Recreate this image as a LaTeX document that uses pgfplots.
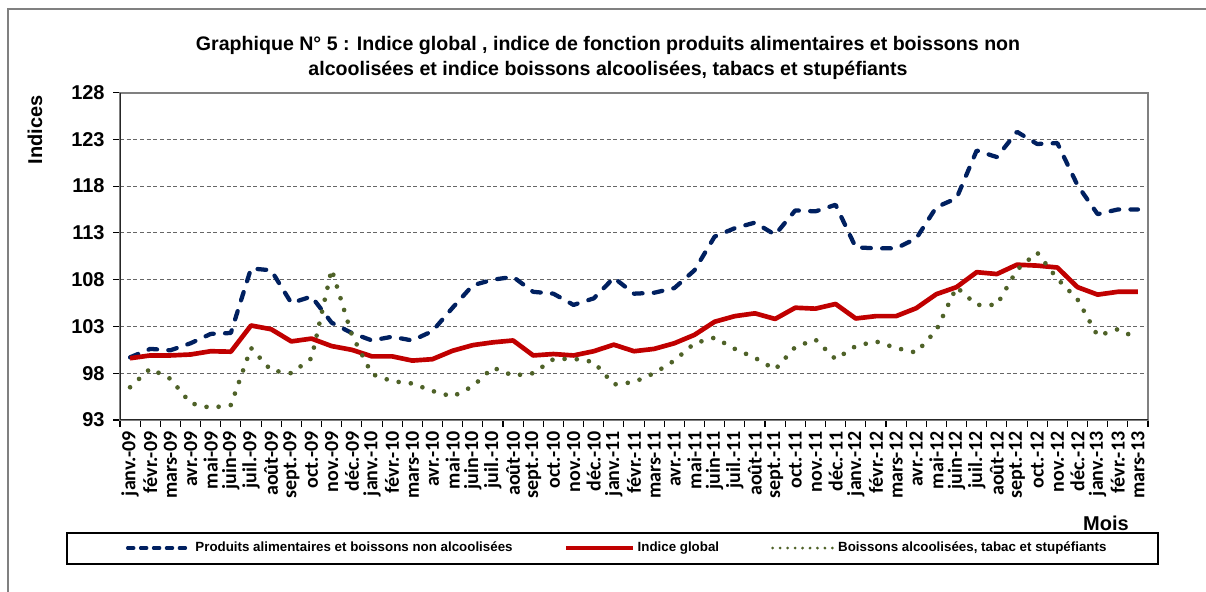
\documentclass[border=0pt]{standalone}
\usepackage{fontspec}
\setmainfont{Liberation Sans}
\newfontfamily\carlito{Carlito}
\usepackage{pgfplots}
\usepackage{pgfplotstable}
\pgfplotsset{compat=1.18}
\definecolor{cblue}{RGB}{0,32,96}
\definecolor{cred}{RGB}{192,0,0}
\definecolor{cgreen}{RGB}{79,98,40}
\pgfplotstableread{
i P G B
0 99.7 99.6 96.5
1 100.6 99.9 98.5
2 100.45 99.9 97.4
3 101.2 100.0 94.8
4 102.2 100.35 94.3
5 102.3 100.3 94.6
6 109.2 103.1 100.7
7 109.0 102.7 98.3
8 105.5 101.4 98.0
9 106.2 101.7 99.6
10 103.4 100.9 109.1
11 102.3 100.5 102.1
12 101.5 99.8 97.9
13 101.9 99.8 97.15
14 101.5 99.35 96.9
15 102.5 99.5 96.1
16 105.0 100.4 95.5
17 107.4 101.0 96.6
18 108.0 101.3 98.6
19 108.3 101.5 97.75
20 106.7 99.9 98.0
21 106.5 100.05 99.5
22 105.3 99.9 99.55
23 106.0 100.35 99.2
24 108.2 101.05 96.8
25 106.5 100.35 97.05
26 106.6 100.6 98.0
27 107.1 101.2 99.35
28 109.0 102.1 101.2
29 112.6 103.5 101.8
30 113.5 104.1 100.6
31 114.1 104.4 99.65
32 112.8 103.8 98.4
33 115.4 105.0 100.8
34 115.3 104.9 101.6
35 116.0 105.4 99.5
36 111.45 103.85 100.9
37 111.35 104.1 101.4
38 111.35 104.1 100.7
39 112.4 104.95 100.2
40 115.75 106.45 102.6
41 116.7 107.2 107.2
42 121.8 108.8 105.3
43 121.1 108.6 105.3
44 123.8 109.6 109.05
45 122.5 109.5 110.9
46 122.6 109.3 108.1
47 118.1 107.2 105.9
48 115.0 106.4 102.0
49 115.5 106.7 102.7
50 115.5 106.7 101.7
}\data

\begin{document}
\begin{tikzpicture}
\useasboundingbox (0pt,0pt) rectangle (904.5pt,444pt);
\draw[gray, line width=1.5pt] (6pt,-7.5pt) -- (6pt,437.25pt) -- (915pt,437.25pt);
\node[font=\bfseries\fontsize{14.7}{18.75}\selectfont, align=center] at (456pt,400.5pt)
 {Graphique N° 5 : Indice global , indice de fonction produits alimentaires et boissons non\\alcoolisées et indice boissons alcoolisées, tabacs et stupéfiants};
\node[rotate=90, font=\bfseries\fontsize{15}{15}\selectfont] at (26.25pt,346.5pt) {Indices};
\node[font=\bfseries\fontsize{15}{15}\selectfont] at (829.5pt,51.75pt) {Mois};
\draw[black, line width=0.8pt] (50.25pt,44.25pt) rectangle (868.5pt,21pt);
\begin{axis}[
  at={(90pt,129pt)}, anchor=south west,
  scale only axis, width=771pt, height=245.6pt,
  xmin=-0.5, xmax=50.5, ymin=93, ymax=128,
  axis line style={draw=gray, line width=1.5pt},
  ytick={93,98,...,128},
  ymajorgrids,
  grid style={densely dashed, gray!80!black, line width=0.6pt},
  tick style={black, line width=0.8pt},
  tick align=outside, tick pos=left,
  major tick length=5pt,
  xtick={-0.5,0.5,...,50.5},
  x tick label as interval,
  xticklabels={janv.-09,févr.-09,mars-09,avr.-09,mai-09,juin-09,juil.-09,août-09,sept.-09,oct.-09,nov.-09,déc.-09,
    janv.-10,févr.-10,mars-10,avr.-10,mai-10,juin-10,juil.-10,août-10,sept.-10,oct.-10,nov.-10,déc.-10,
    janv.-11,févr.-11,mars-11,avr.-11,mai-11,juin-11,juil.-11,août-11,sept.-11,oct.-11,nov.-11,déc.-11,
    janv.-12,févr.-12,mars-12,avr.-12,mai-12,juin-12,juil.-12,août-12,sept.-12,oct.-12,nov.-12,déc.-12,
    janv.-13,févr.-13,mars-13},
  xticklabel style={rotate=90, anchor=east, font=\carlito\bfseries\fontsize{15}{15}\selectfont, inner sep=3.5pt},
  yticklabel style={font=\bfseries\fontsize{15}{15}\selectfont, xshift=-3pt},
  /pgf/number format/assume math mode=true,
  legend columns=3,
  legend style={at={(0.484,-0.391)}, anchor=center, draw=none, fill=none,
    font=\bfseries\fontsize{10}{12}\selectfont,
    /tikz/every even column/.append style={column sep=37pt}},
]
\addplot[cblue, line width=3.2pt, line cap=round, line join=round, dash pattern=on 6.5pt off 8.5pt,
  legend image code/.code={\draw[cblue, line width=2.6pt, line cap=round, dash pattern=on 4.5pt off 5.2pt] (1.5pt,0pt) -- (49pt,0pt);}] table[x=i,y=P]{\data};
\addlegendentry{Produits alimentaires et boissons non alcoolisées}
\addplot[cred, line width=3.5pt, line join=round,
  legend image code/.code={\draw[cred, line width=2.8pt] (0pt,0pt) -- (50pt,0pt);}] table[x=i,y=G]{\data};
\addlegendentry{Indice global}
\addplot[cgreen, line width=3.5pt, line cap=round, dash pattern=on 0pt off 9.2pt,
  legend image code/.code={\draw[cgreen, line width=2.3pt, line cap=round, dash pattern=on 0pt off 5.6pt] (1pt,0pt) -- (47pt,0pt);}] table[x=i,y=B]{\data};
\addlegendentry{Boissons alcoolisées, tabac et stupéfiants}
\draw[black!85, line width=1.5pt] (rel axis cs:0,1) -- (rel axis cs:0,0) -- (rel axis cs:1,0);
\end{axis}
\end{tikzpicture}
\end{document}
